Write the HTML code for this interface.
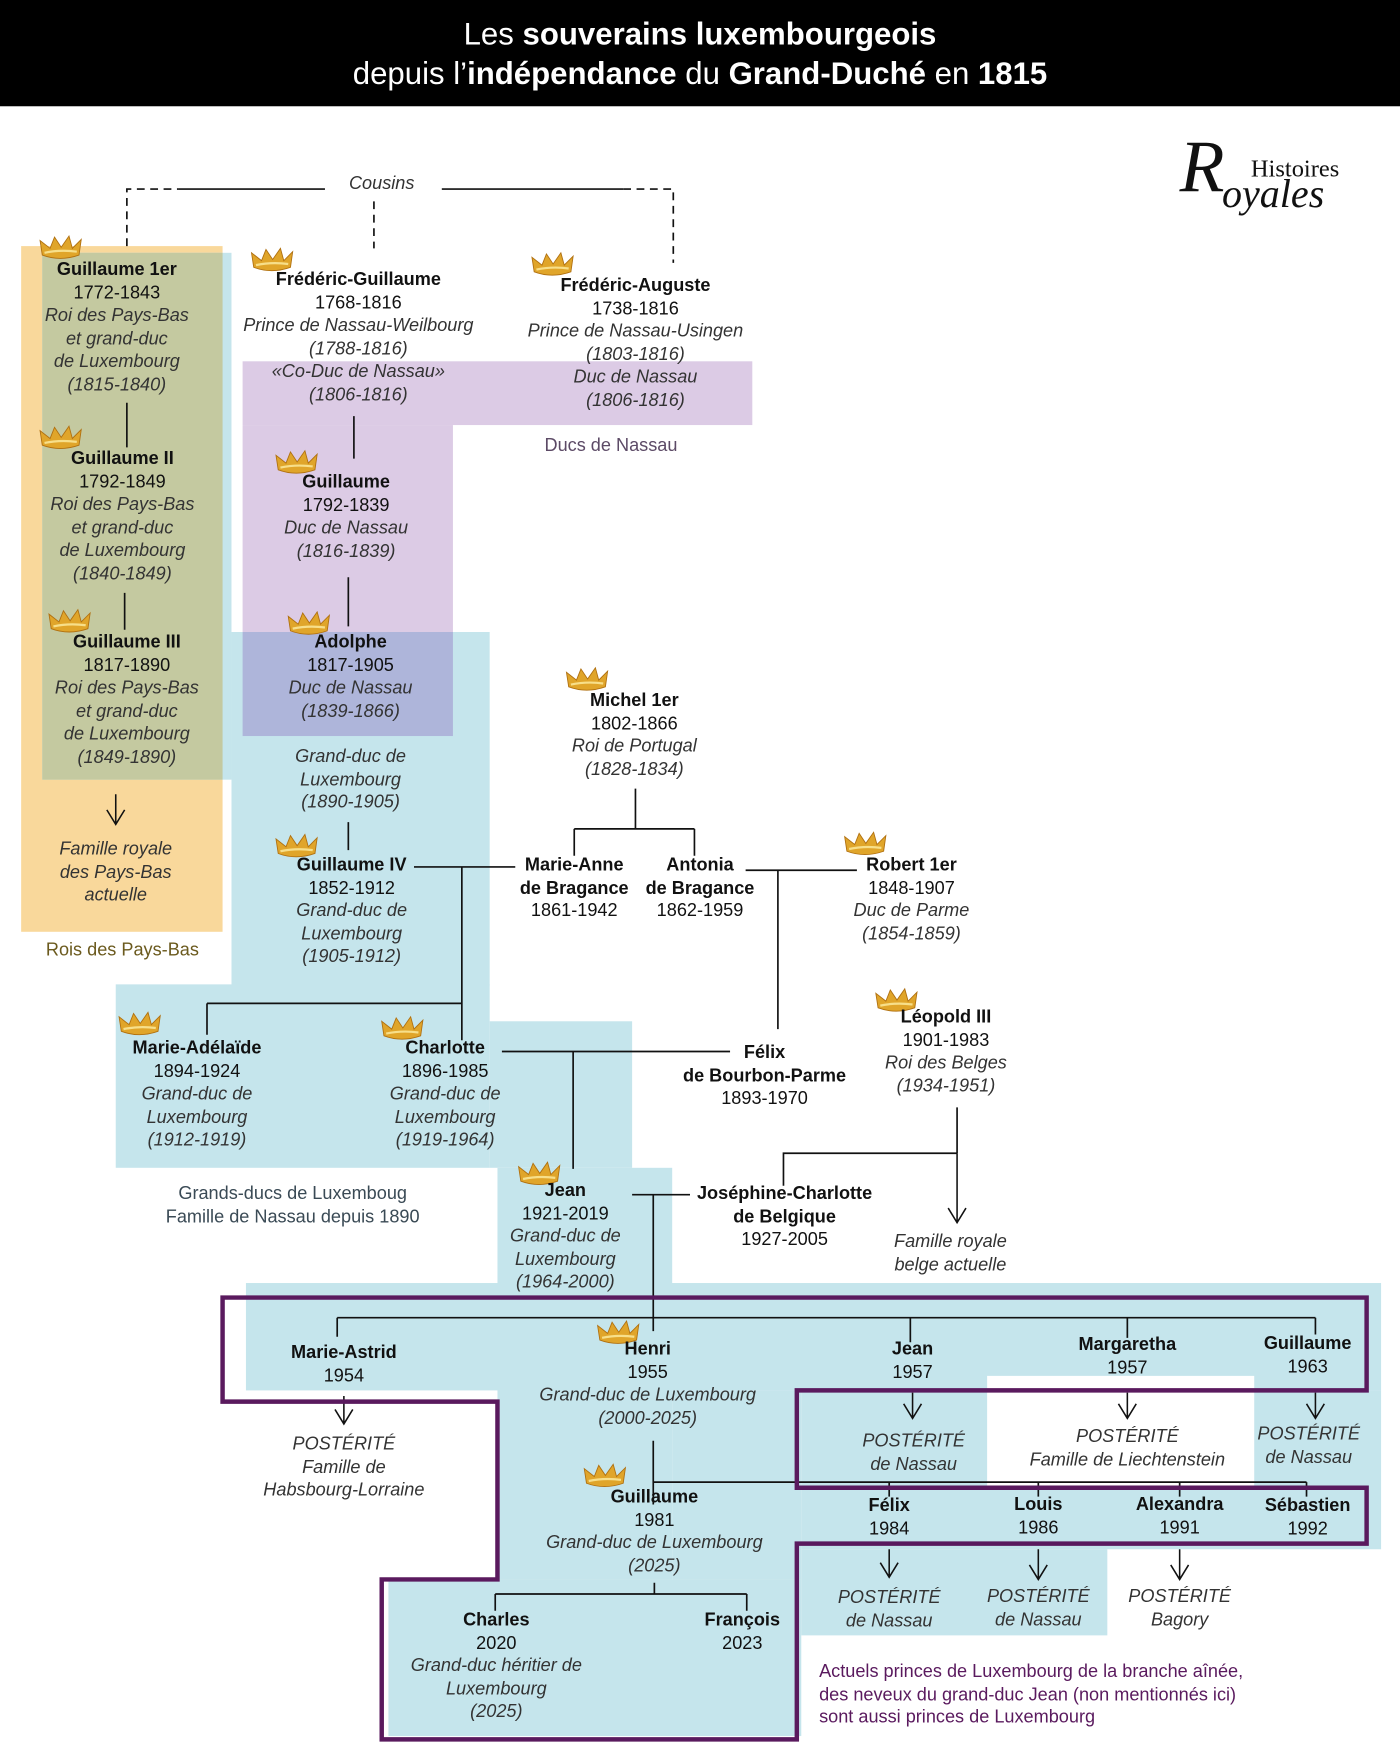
<!DOCTYPE html>
<html><head><meta charset="utf-8"><style>
html,body{margin:0;padding:0;background:#fff;width:1400px;height:1745px;overflow:hidden}
#s{position:absolute;left:0;top:0;width:1258px;height:1560px;transform:scale(1.11288,1.11859);transform-origin:0 0;font-family:"Liberation Sans",sans-serif;color:#111}
.r{position:absolute}
.t{position:absolute;width:300px;text-align:center;font-size:16.3px;line-height:20.5px;white-space:nowrap;margin-top:-2px}
.t b{font-weight:bold}
.t i{font-style:italic;color:#333}
svg{position:absolute;left:0;top:0}
</style></head><body><div id="s">
<div class="r" style="left:0;top:0;width:1258px;height:95px;background:#000"></div>
<div class="t" style="left:279px;width:700px;top:15px;font-size:28px;line-height:35px;color:#fff">Les <b>souverains luxembourgeois</b><br>depuis l’<b>indépendance</b> du <b>Grand-Duché</b> en <b>1815</b></div>
<div class="r" style="left:1060px;top:112px;font-family:'Liberation Serif',serif;font-style:italic;font-size:66px;color:#111">R</div>
<div class="r" style="left:1124px;top:138px;font-family:'Liberation Serif',serif;font-size:22px;color:#111">Histoires</div>
<div class="r" style="left:1098px;top:152px;font-family:'Liberation Serif',serif;font-style:italic;font-size:36px;color:#111">oyales</div>

<div class="r" style="left:19px;top:220px;width:181px;height:613px;background:#f9d89b"></div>
<div class="r" style="left:38px;top:226px;width:170px;height:471px;background:#c5e5ec"></div>
<div class="r" style="left:38px;top:226px;width:162px;height:471px;background:#c4c9a0"></div>
<div class="r" style="left:218px;top:323px;width:458px;height:57px;background:#dccbe5"></div>
<div class="r" style="left:218px;top:380px;width:189px;height:278px;background:#dccbe5"></div>
<div class="r" style="left:208px;top:565px;width:232px;height:316px;background:#c5e5ec"></div>
<div class="r" style="left:218px;top:565px;width:189px;height:93px;background:#aeb5da"></div>
<div class="r" style="left:104px;top:880px;width:336px;height:164px;background:#c5e5ec"></div>
<div class="r" style="left:440px;top:913px;width:128px;height:131px;background:#c5e5ec"></div>
<div class="r" style="left:447px;top:1044px;width:157px;height:368px;background:#c5e5ec"></div>
<div class="r" style="left:221px;top:1147px;width:1020px;height:96px;background:#c5e5ec"></div>
<div class="r" style="left:720px;top:1243px;width:521px;height:142px;background:#c5e5ec"></div>
<div class="r" style="left:604px;top:1243px;width:116px;height:169px;background:#c5e5ec"></div>
<div class="r" style="left:887px;top:1230px;width:240px;height:100px;background:#fff"></div>
<div class="r" style="left:720px;top:1385px;width:275px;height:77px;background:#c5e5ec"></div>
<div class="r" style="left:349px;top:1412px;width:371px;height:140px;background:#c5e5ec"></div>

<svg width="1258" height="1560" viewBox="0 0 1258 1560">
<defs>
<g id="c"><path d="M2,18 L0,5 L9,12 L13,2 L19,11 L26,1 L29,12 L37,4 L35,18 Q18,24 2,18Z" fill="#e0a52a" stroke="#b07010" stroke-width="0.8"/><path d="M4,16 Q18,13 33,15" stroke="#f7df8a" stroke-width="2" fill="none"/></g>
</defs>
<g stroke="#111" stroke-width="1.5" fill="none">
<path d="M114,220 V169 H160" stroke-dasharray="7,5"/><path d="M160,169 H292 M397,169 H560"/><path d="M560,169 H605 V235" stroke-dasharray="7,5"/><path d="M336,180 V222" stroke-dasharray="7,5"/>
<path d="M114,360 V400 M112,530 V563 M318,372 V410 M313,516 V560 M313,735 V760"/>
<path d="M372,775 H463 M415,775 V930 M186,897 H415 M186,897 V925"/>
<path d="M571,705 V741 M516,741 H624 M516,741 V765 M624,741 V765"/>
<path d="M670,778 H770 M699,778 V920"/>
<path d="M451,940 H656 M515,940 V1045"/>
<path d="M568,1068 H620 M587,1068 V1190 M303,1178 H1182 M303,1178 V1195 M818,1178 V1200 M1013,1178 V1196 M1182,1178 V1193"/>
<path d="M704,1060 V1031 H860 M860,990 V1031"/>
<path d="M587,1288 V1345 M587,1325 H1174 M799,1325 V1338 M933,1325 V1338 M1060,1325 V1338 M1174,1325 V1338"/>
<path d="M588,1415 V1425 M445,1425 H671 M445,1425 V1440 M671,1425 V1440"/>
</g>
<g stroke="#111" stroke-width="1.4" fill="none">
<path d="M104,710 V737 M96,724 L104,737 L112,724"/>
<path d="M860,1031 V1093 M852,1080 L860,1093 L868,1080"/>
<path d="M309,1248 V1273 M301,1260 L309,1273 L317,1260"/>
<path d="M820,1245 V1268 M812,1255 L820,1268 L828,1255"/>
<path d="M1013,1245 V1268 M1005,1255 L1013,1268 L1021,1255"/>
<path d="M1182,1245 V1268 M1174,1255 L1182,1268 L1190,1255"/>
<path d="M799,1385 V1410 M791,1397 L799,1410 L807,1397"/>
<path d="M933,1385 V1412 M925,1399 L933,1412 L941,1399"/>
<path d="M1060,1385 V1412 M1052,1399 L1060,1412 L1068,1399"/>
</g>
<path d="M200,1160 H1228 V1243 H716 V1330 H1228 V1380 H716 V1555 H343 V1412 H447 V1253 H200 Z" fill="none" stroke="#5a1a5e" stroke-width="4"/>
<use href="#c" x="36" y="210"/><use href="#c" x="226" y="221"/><use href="#c" x="478" y="225"/><use href="#c" x="36" y="380"/><use href="#c" x="248" y="402"/><use href="#c" x="44" y="544"/><use href="#c" x="259" y="546"/><use href="#c" x="509" y="596"/><use href="#c" x="759" y="743"/><use href="#c" x="248" y="745"/><use href="#c" x="107" y="904"/><use href="#c" x="343" y="908"/><use href="#c" x="787" y="883"/><use href="#c" x="466" y="1038"/><use href="#c" x="537" y="1180"/><use href="#c" x="525" y="1308"/>
</svg>
<div class="t" style="left:293px;top:156px;width:100px;font-style:italic;color:#333">Cousins</div>

<div class="t" style="left:-45px;top:233px"><b>Guillaume 1er</b><br>1772-1843<br><i>Roi des Pays-Bas<br>et grand-duc<br>de Luxembourg<br>(1815-1840)</i></div>
<div class="t" style="left:172px;top:242px"><b>Frédéric-Guillaume</b><br>1768-1816<br><i>Prince de Nassau-Weilbourg<br>(1788-1816)<br>«Co-Duc de Nassau»<br>(1806-1816)</i></div>
<div class="t" style="left:421px;top:247px"><b>Frédéric-Auguste</b><br>1738-1816<br><i>Prince de Nassau-Usingen<br>(1803-1816)<br>Duc de Nassau<br>(1806-1816)</i></div>
<div class="t" style="left:399px;top:390px;color:#5c4a66">Ducs de Nassau</div>
<div class="t" style="left:-40px;top:402px"><b>Guillaume II</b><br>1792-1849<br><i>Roi des Pays-Bas<br>et grand-duc<br>de Luxembourg<br>(1840-1849)</i></div>
<div class="t" style="left:161px;top:423px"><b>Guillaume</b><br>1792-1839<br><i>Duc de Nassau<br>(1816-1839)</i></div>
<div class="t" style="left:-36px;top:566px"><b>Guillaume III</b><br>1817-1890<br><i>Roi des Pays-Bas<br>et grand-duc<br>de Luxembourg<br>(1849-1890)</i></div>
<div class="t" style="left:165px;top:566px"><b>Adolphe</b><br>1817-1905<br><i>Duc de Nassau<br>(1839-1866)</i></div>
<div class="t" style="left:165px;top:668px"><i>Grand-duc de<br>Luxembourg<br>(1890-1905)</i></div>
<div class="t" style="left:-46px;top:751px"><i>Famille royale<br>des Pays-Bas<br>actuelle</i></div>
<div class="t" style="left:-40px;top:841px;color:#6b5a1e">Rois des Pays-Bas</div>
<div class="t" style="left:420px;top:618px"><b>Michel 1er</b><br>1802-1866<br><i>Roi de Portugal<br>(1828-1834)</i></div>
<div class="t" style="left:166px;top:765px"><b>Guillaume IV</b><br>1852-1912<br><i>Grand-duc de<br>Luxembourg<br>(1905-1912)</i></div>
<div class="t" style="left:366px;top:765px"><b>Marie-Anne<br>de Bragance</b><br>1861-1942</div>
<div class="t" style="left:479px;top:765px"><b>Antonia<br>de Bragance</b><br>1862-1959</div>
<div class="t" style="left:669px;top:765px"><b>Robert 1er</b><br>1848-1907<br><i>Duc de Parme<br>(1854-1859)</i></div>
<div class="t" style="left:700px;top:901px"><b>Léopold III</b><br>1901-1983<br><i>Roi des Belges<br>(1934-1951)</i></div>
<div class="t" style="left:27px;top:929px"><b>Marie-Adélaïde</b><br>1894-1924<br><i>Grand-duc de<br>Luxembourg<br>(1912-1919)</i></div>
<div class="t" style="left:250px;top:929px"><b>Charlotte</b><br>1896-1985<br><i>Grand-duc de<br>Luxembourg<br>(1919-1964)</i></div>
<div class="t" style="left:537px;top:933px"><b>Félix<br>de Bourbon-Parme</b><br>1893-1970</div>
<div class="t" style="left:113px;top:1059px;color:#3a4a55">Grands-ducs de Luxemboug<br>Famille de Nassau depuis 1890</div>
<div class="t" style="left:358px;top:1056px"><b>Jean</b><br>1921-2019<br><i>Grand-duc de<br>Luxembourg<br>(1964-2000)</i></div>
<div class="t" style="left:555px;top:1059px"><b>Joséphine-Charlotte<br>de Belgique</b><br>1927-2005</div>
<div class="t" style="left:704px;top:1102px"><i>Famille royale<br>belge actuelle</i></div>
<div class="t" style="left:159px;top:1201px"><b>Marie-Astrid</b><br>1954</div>
<div class="t" style="left:432px;top:1198px"><b>Henri</b><br>1955<br><i>Grand-duc de Luxembourg<br>(2000-2025)</i></div>
<div class="t" style="left:670px;top:1198px"><b>Jean</b><br>1957</div>
<div class="t" style="left:863px;top:1194px"><b>Margaretha</b><br>1957</div>
<div class="t" style="left:1025px;top:1193px"><b>Guillaume</b><br>1963</div>
<div class="t" style="left:159px;top:1283px"><i>POSTÉRITÉ<br>Famille de<br>Habsbourg-Lorraine</i></div>
<div class="t" style="left:671px;top:1280px"><i>POSTÉRITÉ<br>de Nassau</i></div>
<div class="t" style="left:863px;top:1276px"><i>POSTÉRITÉ<br>Famille de Liechtenstein</i></div>
<div class="t" style="left:1026px;top:1274px"><i>POSTÉRITÉ<br>de Nassau</i></div>
<div class="t" style="left:438px;top:1330px"><b>Guillaume</b><br>1981<br><i>Grand-duc de Luxembourg<br>(2025)</i></div>
<div class="t" style="left:649px;top:1338px"><b>Félix</b><br>1984</div>
<div class="t" style="left:783px;top:1337px"><b>Louis</b><br>1986</div>
<div class="t" style="left:910px;top:1337px"><b>Alexandra</b><br>1991</div>
<div class="t" style="left:1025px;top:1338px"><b>Sébastien</b><br>1992</div>
<div class="t" style="left:649px;top:1420px"><i>POSTÉRITÉ<br>de Nassau</i></div>
<div class="t" style="left:783px;top:1419px"><i>POSTÉRITÉ<br>de Nassau</i></div>
<div class="t" style="left:910px;top:1419px"><i>POSTÉRITÉ<br>Bagory</i></div>
<div class="t" style="left:296px;top:1440px"><b>Charles</b><br>2020<br><i>Grand-duc héritier de<br>Luxembourg<br>(2025)</i></div>
<div class="t" style="left:517px;top:1440px"><b>François</b><br>2023</div>
<div class="t" style="left:736px;top:1486px;text-align:left;color:#5a1a5e">Actuels princes de Luxembourg de la branche aînée,<br>des neveux du grand-duc Jean (non mentionnés ici)<br>sont aussi princes de Luxembourg</div>
</div></body></html>
